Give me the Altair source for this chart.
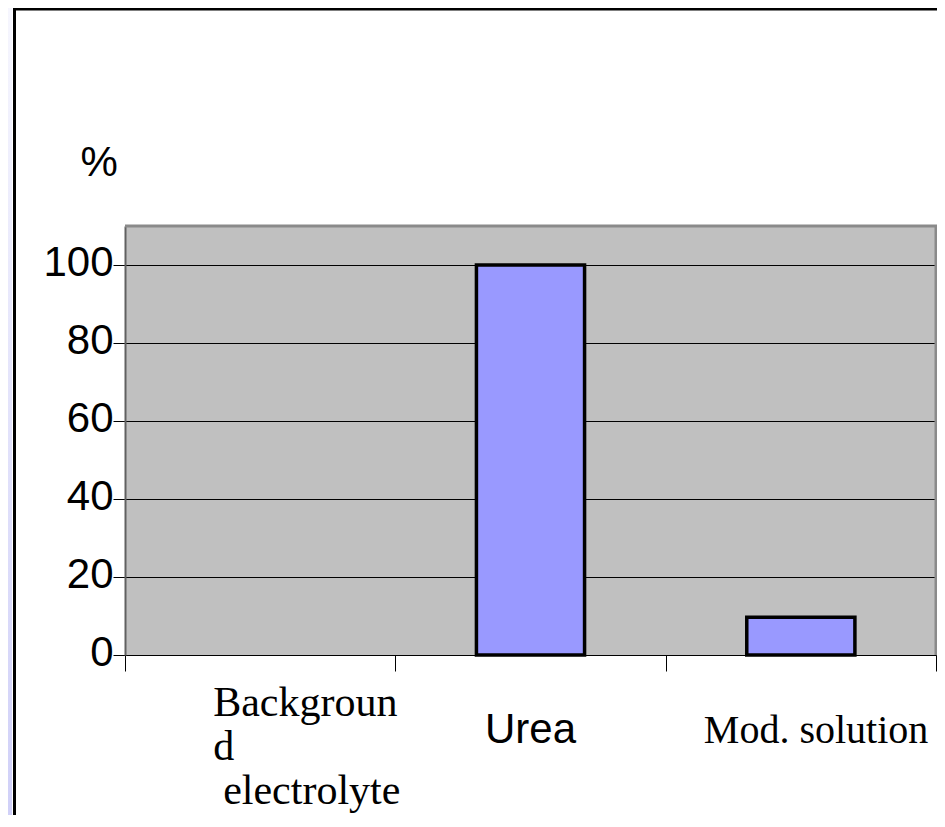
import altair as alt
import pandas as pd

# ---- data ----
categories = ["Background electrolyte", "Urea", "Mod. solution"]
x_label_lines = [["Backgroun", "d"], ["Urea"], ["Mod. solution"]]
x_label_tail = ["electrolyte", "", ""]
values = [0, 100, 9.7]
y_ticks = [0, 20, 40, 60, 80, 100]

df = pd.DataFrame({
    "category": categories,
    "label": ["\n".join(l) for l in x_label_lines],
    "tail": x_label_tail,
    "value": values,
})

W, H = 811, 429

x_scale = alt.Scale(paddingInner=0, paddingOuter=0)
x_enc = alt.X(
    "category:N", sort=categories, scale=x_scale,
    axis=alt.Axis(labels=False, title=None, domainColor="black", domainWidth=1,
                  tickColor="black", tickSize=16, tickWidth=1, tickBand="extent", grid=False),
)
y_enc = alt.Y(
    "value:Q", scale=alt.Scale(domain=[0, 110], nice=False, zero=True),
    axis=alt.Axis(values=y_ticks, grid=True, gridColor="black", gridWidth=1,
                  domainColor="#606060", domainWidth=2,
                  tickColor="black", tickSize=12, tickWidth=1,
                  labelFont="Liberation Sans", labelFontSize=42, labelColor="black",
                  labelPadding=0, labelOffset=-3,
                  title="%", titleAngle=0, titleX=-45, titleY=-51, titleAlign="left",
                  titleBaseline="alphabetic", titleFont="Liberation Sans", titleFontSize=42,
                  titleFontWeight="normal", titleColor="black"),
)

bars = alt.Chart(df).mark_bar(
    fill="#9999FF", stroke="black", width=alt.RelativeBandSize(0.4)
).encode(
    x=x_enc, y=y_enc,
    strokeWidth=alt.condition(alt.datum.value > 0, alt.value(3.5), alt.value(0)),
)

def label_layer(idx, field, font, size, align, dx, dy, lh=44):
    return alt.Chart(df.iloc[[idx]]).mark_text(
        font=font, fontSize=size, align=align, baseline="alphabetic",
        lineBreak="\n", lineHeight=lh, dx=dx, dy=dy, color="black",
    ).encode(x=alt.X("category:N", sort=categories), y=alt.Y(datum=0), text=f"{field}:N")

lab_bg = label_layer(0, "label", "Liberation Serif", 42, "left", -47, 61)
lab_bg_tail = label_layer(0, "tail", "Liberation Serif", 42, "left", -37, 149)
lab_urea = label_layer(1, "label", "Liberation Sans", 42, "center", 0, 88)
lab_mod = label_layer(2, "label", "Liberation Serif", 40, "left", -97, 88)

empty = alt.Data(values=[{}])
top_border = alt.Chart(empty).mark_rule(color="#8a8a8a", strokeWidth=3).encode(
    x=alt.value(0), x2=alt.value(W + 1.5), y=alt.value(0))
right_border = alt.Chart(empty).mark_rule(color="#8a8a8a", strokeWidth=3).encode(
    x=alt.value(W), y=alt.value(0), y2=alt.value(H))

strip = alt.Chart(empty).mark_rect(
    fill=alt.Gradient(gradient="linear", x1=0, x2=0, y1=0, y2=1,
                      stops=[alt.GradientStop(color="#F6F6FE", offset=0),
                             alt.GradientStop(color="#D0D0F8", offset=1)])
).encode(x=alt.value(-117), x2=alt.value(-113), y=alt.value(-218), y2=alt.value(H + 170))

frame_v = alt.Chart(empty).mark_rule(color="black", strokeWidth=3).encode(
    x=alt.value(-110.5), y=alt.value(-217.5), y2=alt.value(H + 170))
frame_h = alt.Chart(empty).mark_rule(color="black", strokeWidth=3).encode(
    x=alt.value(-112), x2=alt.value(W + 20), y=alt.value(-217))

chart = alt.layer(
    bars, top_border, right_border, lab_bg, lab_bg_tail, lab_urea, lab_mod,
    strip, frame_v, frame_h
).properties(
    width=W, height=H,
    padding={"left": 117, "top": 218, "right": 1, "bottom": 160},
    autosize=alt.AutoSizeParams(type="none"),
    background="white",
).configure_view(fill="#C0C0C0", strokeWidth=0)

chart.save("out.html", embed_options={"renderer": "svg", "actions": False})
